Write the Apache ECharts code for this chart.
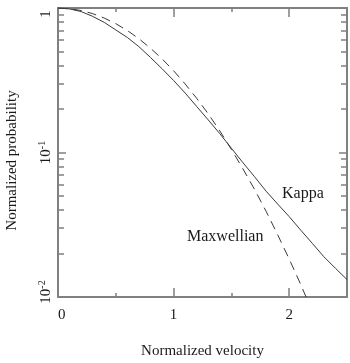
<!DOCTYPE html>
<html>
<head>
<meta charset="utf-8">
<script src="https://cdn.jsdelivr.net/npm/echarts@6/dist/echarts.min.js"></script>
<style>
html, body { margin: 0; padding: 0; background: #fff; }
#main { width: 350px; height: 363px; }
</style>
</head>
<body>
<div id="main"></div>
<script>
// velocity grid shared by both curves
var velocity = [0, 0.1, 0.2, 0.3, 0.4, 0.5, 0.6, 0.7, 0.8, 0.9, 1.0, 1.1, 1.2,
                1.3, 1.4, 1.5, 1.6, 1.7, 1.8, 1.9, 2.0, 2.1, 2.2, 2.3, 2.4, 2.5];
// Kappa (solid)
var kappa = [1.000, 0.985, 0.945, 0.875, 0.795, 0.705, 0.625, 0.540, 0.455, 0.380,
             0.315, 0.258, 0.208, 0.168, 0.135, 0.107, 0.085, 0.068, 0.054, 0.044,
             0.036, 0.029, 0.0235, 0.019, 0.0158, 0.0132];
// Maxwellian (dashed), runs off the bottom just past 2.1
var maxwellian = [1.000, 0.990, 0.961, 0.914, 0.852, 0.779, 0.698, 0.613, 0.527, 0.445,
                  0.368, 0.298, 0.237, 0.185, 0.141, 0.105, 0.077, 0.0556, 0.0392, 0.027,
                  0.0183, 0.0122, 0.0079];
var xTicks = [0, 1, 2];
var yMinorTicks = [0.02, 0.03, 0.04, 0.05, 0.06, 0.07, 0.08, 0.09,
                   0.2, 0.3, 0.4, 0.5, 0.6, 0.7, 0.8, 0.9];

var FONT = 'Liberation Serif';
var AXIS = '#808080';
var INK = '#1a1a1a';

function pairs(ys) {
    var out = [];
    for (var i = 0; i < ys.length; i++) out.push([velocity[i], ys[i]]);
    return out;
}

var myChart = echarts.init(document.getElementById('main'));

function yAxisBase(pos) {
    return {
        type: 'log',
        logBase: 10,
        min: 0.01,
        max: 1,
        position: pos,
        axisLine: { show: true, lineStyle: { color: AXIS, width: 2 } },
        axisTick: { show: true, inside: true, length: 8, lineStyle: { color: AXIS, width: 1.5 } },
        axisLabel: { show: false },
        splitLine: { show: false },
        minorTick: { show: false }
    };
}

var yLeft = yAxisBase('left');
yLeft.name = 'Normalized probability';
yLeft.nameLocation = 'middle';
yLeft.nameGap = 38;
yLeft.nameTextStyle = { fontFamily: FONT, fontSize: 15, color: INK, padding: [0, 16, 0, 0] };
yLeft.axisLabel = {
    show: true,
    rotate: 90,
    margin: 3,
    showMinLabel: true,
    showMaxLabel: true,
    fontFamily: FONT,
    color: INK,
    formatter: function (v) {
        var e = Math.round(Math.log(v) / Math.LN10);
        if (e === 0) return '{top|1}';
        return '{' + (e === -2 ? 'bot' : 'n') + '|10}{s|' + e + '}';
    },
    rich: {
        n: { fontFamily: FONT, fontSize: 15, color: INK, lineHeight: 18 },
        top: { fontFamily: FONT, fontSize: 15, color: INK, lineHeight: 18, padding: [0, 12, 0, 0] },
        bot: { fontFamily: FONT, fontSize: 15, color: INK, lineHeight: 18, padding: [0, 0, 0, 10] },
        s: { fontFamily: FONT, fontSize: 10, color: INK, lineHeight: 10, verticalAlign: 'top' }
    }
};

var yLeftMinor = yAxisBase('left');
yLeftMinor.axisLine = { show: false };
yLeftMinor.axisTick = { show: true, inside: true, length: 6, customValues: yMinorTicks, lineStyle: { color: AXIS, width: 1.5 } };

var yRight = yAxisBase('right');
var yRightMinor = yAxisBase('right');
yRightMinor.axisLine = { show: false };
yRightMinor.axisTick = { show: true, inside: true, length: 6, customValues: yMinorTicks, lineStyle: { color: AXIS, width: 1.5 } };

function xAxisBase(pos) {
    return {
        type: 'value',
        min: 0,
        max: 2.5,
        interval: 1,
        position: pos,
        axisLine: { show: true, onZero: false, lineStyle: { color: AXIS, width: 2 } },
        axisTick: { show: true, inside: true, length: 9, lineStyle: { color: AXIS, width: 1.5 } },
        minorTick: { show: true, splitNumber: 2, length: 4, lineStyle: { color: AXIS, width: 1.5 } },
        axisLabel: { show: false },
        splitLine: { show: false },
        minorSplitLine: { show: false }
    };
}

var xBottom = xAxisBase('bottom');
xBottom.name = 'Normalized velocity';
xBottom.nameLocation = 'middle';
xBottom.nameGap = 47;
xBottom.nameTextStyle = { fontFamily: FONT, fontSize: 15, color: INK };
xBottom.axisLabel = {
    show: true,
    margin: 11,
    fontFamily: FONT,
    fontSize: 15,
    color: INK,
    showMaxLabel: false,
    alignMinLabel: 'left',
    formatter: function (v) { return xTicks.indexOf(v) >= 0 ? String(v) : ''; }
};
var xTop = xAxisBase('top');

var option = {
    animation: false,
    backgroundColor: '#fff',
    grid: { left: 58, right: 3, top: 8, bottom: 66, containLabel: false, outerBoundsMode: 'none' },
    xAxis: [xBottom, xTop],
    yAxis: [yLeft, yLeftMinor, yRight, yRightMinor],
    series: [
        {
            name: 'Kappa',
            type: 'line',
            xAxisIndex: 0,
            yAxisIndex: 0,
            showSymbol: false,
            symbol: 'none',
            lineStyle: { color: '#3a3a3a', width: 1 },
            data: pairs(kappa)
        },
        {
            name: 'Maxwellian',
            type: 'line',
            xAxisIndex: 0,
            yAxisIndex: 0,
            showSymbol: false,
            symbol: 'none',
            clip: true,
            lineStyle: { color: '#3a3a3a', width: 1, type: [9, 6] },
            data: pairs(maxwellian)
        }
    ],
    graphic: [
        { type: 'text', left: 282, top: 186, style: { text: 'Kappa', fontFamily: FONT, fontSize: 16, fill: INK } },
        { type: 'text', left: 187, top: 229, style: { text: 'Maxwellian', fontFamily: FONT, fontSize: 16, fill: INK } }
    ]
};

myChart.setOption(option);
</script>
</body>
</html>
